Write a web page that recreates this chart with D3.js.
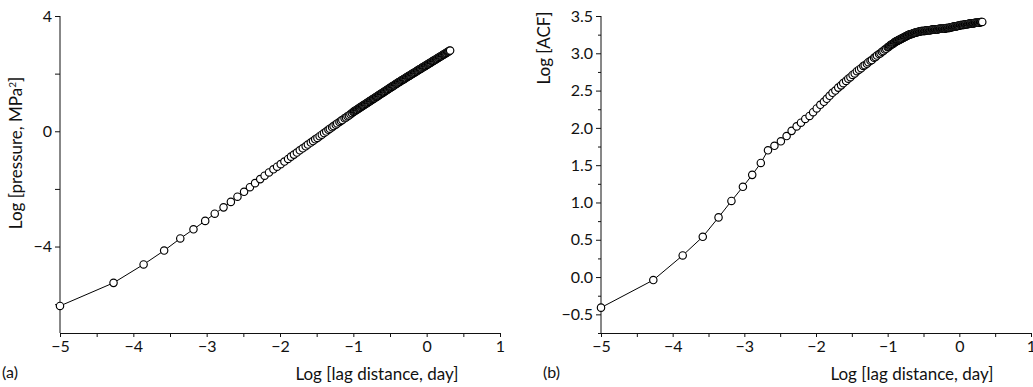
<!DOCTYPE html>
<html>
<head>
<meta charset="utf-8">
<script src="https://cdn.jsdelivr.net/npm/d3@7"></script>
<style>
  body { margin: 0; background: #fff; }
  svg { display: block; }
  text { font-family: Lato, "Noto Sans", sans-serif; fill: #111; }
  .axis path, .axis line { stroke: #111; stroke-width: 1; }
</style>
</head>
<body>
<div id="chart"></div>
<script>
// log10 of lag distance (shared by both panels)
var lagLog = [-5, -4.27, -3.86, -3.58, -3.36, -3.18, -3.02, -2.89, -2.77, -2.67,
  -2.58, -2.49, -2.41, -2.34, -2.27, -2.21, -2.15, -2.09, -2.04, -1.99,
  -1.94, -1.89, -1.85, -1.81, -1.77, -1.73, -1.69, -1.65, -1.62, -1.58,
  -1.55, -1.52, -1.49, -1.46, -1.43, -1.40, -1.37, -1.34, -1.32, -1.29,
  -1.27, -1.24, -1.22, -1.19, -1.17, -1.15, -1.12, -1.10, -1.08, -1.06,
  -1.04, -1.02,
  -1.00, -0.99, -0.98, -0.97, -0.96, -0.95, -0.94, -0.93, -0.92, -0.91,
  -0.90, -0.89, -0.88, -0.87, -0.86, -0.85, -0.84, -0.83, -0.82, -0.81,
  -0.80, -0.79, -0.78, -0.77, -0.76, -0.75, -0.74, -0.73, -0.72, -0.71,
  -0.70, -0.69, -0.68, -0.67, -0.66, -0.65, -0.64, -0.63, -0.62, -0.61,
  -0.60, -0.59, -0.58, -0.57, -0.56, -0.55, -0.54, -0.53, -0.52, -0.51,
  -0.50, -0.49, -0.48, -0.47, -0.46, -0.45, -0.44, -0.43, -0.42, -0.41,
  -0.40, -0.39, -0.38, -0.37, -0.36, -0.35, -0.34, -0.33, -0.32, -0.31,
  -0.30, -0.29, -0.28, -0.27, -0.26, -0.25, -0.24, -0.23, -0.22, -0.21,
  -0.20, -0.19, -0.18, -0.17, -0.16, -0.15, -0.14, -0.13, -0.12, -0.11,
  -0.10, -0.09, -0.08, -0.07, -0.06, -0.05, -0.04, -0.03, -0.02, -0.01,
  0.00, 0.01, 0.02, 0.03, 0.04, 0.05, 0.06, 0.07, 0.08, 0.09,
  0.10, 0.11, 0.12, 0.13, 0.14, 0.15, 0.16, 0.17, 0.18, 0.19,
  0.20, 0.21, 0.22, 0.23, 0.24, 0.25, 0.26, 0.27, 0.28, 0.29,
  0.30, 0.31, 0.32];

// panel (a): log pressure
var logPressure = [-6.06, -5.26, -4.62, -4.14, -3.72, -3.40, -3.11, -2.86, -2.64, -2.45,
  -2.27, -2.10, -1.94, -1.80, -1.66, -1.54, -1.43, -1.32, -1.23, -1.14,
  -1.05, -0.96, -0.88, -0.81, -0.74, -0.66, -0.59, -0.52, -0.46, -0.39,
  -0.34, -0.28, -0.23, -0.17, -0.12, -0.06, -0.01, 0.05, 0.09, 0.14,
  0.18, 0.23, 0.27, 0.32, 0.36, 0.39, 0.45, 0.48, 0.52, 0.55,
  0.59, 0.63,
  0.67, 0.69, 0.70, 0.72, 0.74, 0.75, 0.77, 0.79, 0.80, 0.82,
  0.84, 0.85, 0.87, 0.89, 0.90, 0.92, 0.94, 0.95, 0.97, 0.99,
  1.00, 1.02, 1.04, 1.05, 1.07, 1.09, 1.10, 1.12, 1.14, 1.15,
  1.17, 1.19, 1.20, 1.22, 1.24, 1.25, 1.27, 1.29, 1.30, 1.32,
  1.34, 1.35, 1.37, 1.39, 1.40, 1.42, 1.44, 1.45, 1.47, 1.49,
  1.50, 1.52, 1.54, 1.55, 1.57, 1.59, 1.60, 1.62, 1.64, 1.65,
  1.67, 1.69, 1.70, 1.72, 1.73, 1.75, 1.77, 1.78, 1.80, 1.81,
  1.83, 1.84, 1.86, 1.88, 1.89, 1.91, 1.92, 1.94, 1.95, 1.97,
  1.99, 2.00, 2.02, 2.03, 2.05, 2.06, 2.08, 2.10, 2.11, 2.13,
  2.14, 2.16, 2.17, 2.19, 2.21, 2.22, 2.24, 2.25, 2.27, 2.28,
  2.30, 2.32, 2.33, 2.35, 2.36, 2.38, 2.39, 2.41, 2.43, 2.44,
  2.46, 2.47, 2.49, 2.50, 2.52, 2.54, 2.55, 2.57, 2.58, 2.60,
  2.61, 2.63, 2.65, 2.66, 2.68, 2.69, 2.71, 2.72, 2.74, 2.76,
  2.77, 2.79, 2.80];

// panel (b): log ACF
var logAcf = [-0.41, -0.04, 0.29, 0.54, 0.80, 1.02, 1.21, 1.37, 1.53, 1.70,
  1.76, 1.82, 1.89, 1.96, 2.02, 2.07, 2.12, 2.16, 2.21, 2.26,
  2.31, 2.35, 2.39, 2.43, 2.47, 2.50, 2.54, 2.57, 2.60, 2.63,
  2.66, 2.68, 2.71, 2.73, 2.76, 2.78, 2.80, 2.83, 2.84, 2.86,
  2.88, 2.90, 2.91, 2.94, 2.95, 2.97, 2.99, 3.00, 3.02, 3.03,
  3.05, 3.06,
  3.08, 3.085, 3.09, 3.10, 3.11, 3.115, 3.12, 3.125, 3.13, 3.14,
  3.15, 3.155, 3.16, 3.165, 3.17, 3.175, 3.18, 3.185, 3.19, 3.195,
  3.20, 3.205, 3.21, 3.215, 3.22, 3.225, 3.23, 3.235, 3.24, 3.245,
  3.25, 3.252, 3.255, 3.258, 3.26, 3.265, 3.27, 3.272, 3.275, 3.278,
  3.28, 3.282, 3.285, 3.288, 3.29, 3.292, 3.295, 3.298, 3.30, 3.30,
  3.30, 3.30, 3.30, 3.305, 3.31, 3.31, 3.31, 3.31, 3.31, 3.31,
  3.31, 3.315, 3.32, 3.32, 3.32, 3.32, 3.32, 3.32, 3.32, 3.32,
  3.32, 3.325, 3.33, 3.33, 3.33, 3.33, 3.33, 3.33, 3.33, 3.33,
  3.33, 3.335, 3.34, 3.34, 3.34, 3.34, 3.34, 3.345, 3.35, 3.35,
  3.35, 3.355, 3.36, 3.36, 3.36, 3.36, 3.36, 3.365, 3.37, 3.37,
  3.37, 3.375, 3.38, 3.38, 3.38, 3.38, 3.38, 3.385, 3.39, 3.39,
  3.39, 3.39, 3.39, 3.395, 3.40, 3.40, 3.40, 3.40, 3.40, 3.40,
  3.40, 3.405, 3.41, 3.41, 3.41, 3.41, 3.41, 3.41, 3.41, 3.415,
  3.42, 3.42, 3.42];

var xTicks = [-5, -4, -3, -2, -1, 0, 1];
var xMinor = [-4.5, -3.5, -2.5, -1.5, -0.5, 0.5];
var aTicks = [4, 0, -4];
var aMinor = [2, -2, -6];
var bTicks = [3.5, 3.0, 2.5, 2.0, 1.5, 1.0, 0.5, 0.0, -0.5];
var bMinor = [3.25, 2.75, 2.25, 1.75, 1.25, 0.75, 0.25, -0.25, -0.75];

var W = 1033, H = 387;
var svg = d3.select("#chart").append("svg").attr("width", W).attr("height", H);

function panel(p) {
  var x = d3.scaleLinear().domain([-5, 1]).range([p.left, p.right]);
  var y = d3.scaleLinear().domain(p.yDomain).range([333, 16]);
  var g = svg.append("g");

  // minor ticks first, then major axes on top
  g.append("g").attr("class", "axis")
    .attr("transform", "translate(0,333)")
    .call(d3.axisBottom(x).tickValues(xMinor).tickSize(4).tickFormat(""))
    .call(function(s) { s.select(".domain").remove(); });
  g.append("g").attr("class", "axis")
    .attr("transform", "translate(0,333)")
    .call(d3.axisBottom(x).tickValues(xTicks).tickSizeInner(4).tickSizeOuter(0)
      .tickPadding(4).tickFormat(d3.format("d")))
    .call(function(s) { s.selectAll("text").style("font-size", "16px"); });

  g.append("g").attr("class", "axis")
    .attr("transform", "translate(" + p.left + ",0)")
    .call(d3.axisLeft(y).tickValues(p.minor).tickSize(p.minorSize).tickFormat(""))
    .call(function(s) { s.select(".domain").remove(); });
  g.append("g").attr("class", "axis")
    .attr("transform", "translate(" + p.left + ",0)")
    .call(d3.axisLeft(y).tickValues(p.ticks).tickSizeInner(5).tickSizeOuter(0)
      .tickPadding(3).tickFormat(p.fmt))
    .call(function(s) {
      s.select(".domain").attr("d", "M0," + y.range()[1] + "V333");
      s.selectAll("text").style("font-size", "16px");
    });

  var pts = d3.range(Math.min(lagLog.length, p.values.length)).map(function(i) {
    return [lagLog[i], p.values[i]];
  });

  g.append("path")
    .datum(pts)
    .attr("fill", "none")
    .attr("stroke", "#000")
    .attr("stroke-width", 1)
    .attr("d", d3.line().x(function(d) { return x(d[0]); }).y(function(d) { return y(d[1]); }));

  g.append("g").selectAll("circle")
    .data(pts)
    .enter().append("circle")
    .attr("cx", function(d) { return x(d[0]); })
    .attr("cy", function(d) { return y(d[1]); })
    .attr("r", 3.7)
    .attr("fill", "#fff")
    .attr("stroke", "#000")
    .attr("stroke-width", 1.15);

  // axis titles
  g.append("text")
    .attr("x", p.xTitleX).attr("y", 380)
    .attr("text-anchor", "middle")
    .style("font-size", "17px")
    .text("Log [lag distance, day]");

  var yt = g.append("text")
    .attr("transform", "translate(" + p.yTitleX + "," + p.yTitleY + ") rotate(-90)")
    .attr("text-anchor", "middle")
    .style("font-size", "17px");
  yt.append("tspan").text(p.yTitle);
  if (p.sup) {
    yt.append("tspan").attr("dy", -6).style("font-size", "10px").text(p.sup);
    yt.append("tspan").attr("dy", 6).text(p.yTitleEnd);
  }

  g.append("text")
    .attr("x", p.tagX).attr("y", 378)
    .style("font-size", "16px")
    .text(p.tag);
}

panel({
  left: 60, right: 500, yDomain: [-7, 4],
  ticks: aTicks, minor: aMinor, minorSize: 5, fmt: d3.format("d"),
  values: logPressure,
  xTitleX: 377, yTitleX: 22, yTitleY: 153,
  yTitle: "Log [pressure, MPa", sup: "2", yTitleEnd: "]",
  tag: "(a)", tagX: 2
});

panel({
  left: 601, right: 1031, yDomain: [-0.75, 3.5],
  ticks: bTicks, minor: bMinor, minorSize: 3, fmt: d3.format(".1f"),
  values: logAcf,
  xTitleX: 912, yTitleX: 550, yTitleY: 48,
  yTitle: "Log [ACF]",
  tag: "(b)", tagX: 543
});
</script>
</body>
</html>
